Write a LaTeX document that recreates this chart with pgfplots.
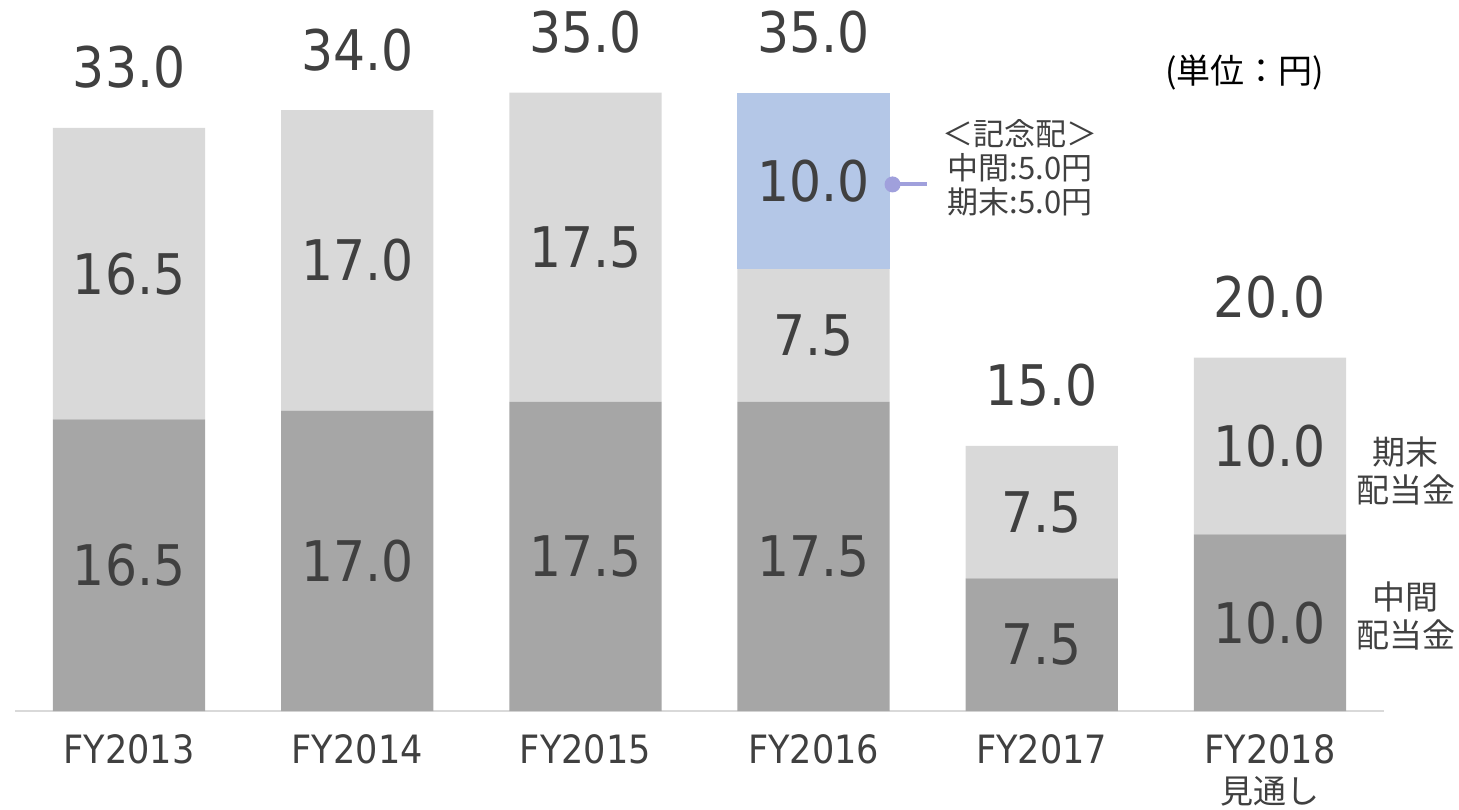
\documentclass[border=0pt]{standalone}
\usepackage{fontspec}
\setmainfont{DejaVu Sans}[FakeStretch=0.9]
\newfontfamily\cjk{Noto Sans CJK JP}
\usepackage{pgfplots}
\usepackage{pgfplotstable}
\pgfplotsset{compat=1.18}

\definecolor{interim}{HTML}{A6A6A6}
\definecolor{yearend}{HTML}{D9D9D9}
\definecolor{extra}{HTML}{B4C7E7}
\definecolor{txt}{HTML}{404040}
\definecolor{annot}{HTML}{A0A0DC}

\tikzset{num/.style={font=\fontsize{28pt}{30pt}\selectfont, text=txt}}
\pgfplotsset{frame/.style={
  scale only axis, width=684.5pt, height=353.4pt,
  xmin=-0.5, xmax=5.5, ymin=0, ymax=40, clip=false}}

% dividend per share (yen)
\pgfplotstableread{
x interim yearend extra
0 16.5 16.5 0
1 17.0 17.0 0
2 17.5 17.5 0
3 17.5 7.5 10.0
4 7.5 7.5 0
5 10.0 10.0 0
}\dividends

\begin{document}
\begin{tikzpicture}
\begin{axis}[
  name=ax, at={(0,0)}, anchor=south west, frame,
  ybar stacked, bar width=0.667,
  axis x line*=bottom, axis y line=none,
  x axis line style={draw=yearend, line width=1pt, -},
  xtick=data, xtick style={draw=none},
  xticklabels={FY2013,FY2014,FY2015,FY2016,FY2017,{FY2018\\{\cjk\fontsize{16.5pt}{20pt}\selectfont 見通し}}},
  xticklabel style={font=\fontsize{19.5pt}{20pt}\selectfont, text=txt, align=center, yshift=-8pt},
  ytick=\empty,
  every axis plot/.append style={draw=none},
]
\addplot[fill=interim] table[x=x, y=interim] {\dividends};
\addplot[fill=yearend] table[x=x, y=yearend] {\dividends};
\addplot[fill=extra] table[x=x, y=extra] {\dividends};
\end{axis}

% labels on top of the bars
\begin{axis}[at={(ax.south west)}, anchor=south west, frame, hide axis]
% segment labels
\node[num] at (axis cs:0,8.25) {16.5};
\node[num] at (axis cs:0,24.75) {16.5};
\node[num] at (axis cs:1,8.5) {17.0};
\node[num] at (axis cs:1,25.5) {17.0};
\node[num] at (axis cs:2,8.75) {17.5};
\node[num] at (axis cs:2,26.25) {17.5};
\node[num] at (axis cs:3,8.75) {17.5};
\node[num] at (axis cs:3,21.25) {7.5};
\node[num] at (axis cs:3,30) {10.0};
\node[num] at (axis cs:4,3.75) {7.5};
\node[num] at (axis cs:4,11.25) {7.5};
\node[num] at (axis cs:5,5) {10.0};
\node[num] at (axis cs:5,15) {10.0};

% totals
\node[num, anchor=base, yshift=20pt] at (axis cs:0,33) {33.0};
\node[num, anchor=base, yshift=20pt] at (axis cs:1,34) {34.0};
\node[num, anchor=base, yshift=20pt] at (axis cs:2,35) {35.0};
\node[num, anchor=base, yshift=20pt] at (axis cs:3,35) {35.0};
\node[num, anchor=base, yshift=20pt] at (axis cs:4,15) {15.0};
\node[num, anchor=base, yshift=20pt] at (axis cs:5,20) {20.0};

% commemorative dividend callout
\draw[annot, line width=2pt] (axis cs:3.346,29.8) -- (axis cs:3.496,29.8);
\fill[annot] (axis cs:3.346,29.8) circle (4pt);
\node[align=center, text=txt, font=\cjk\fontsize{15.5pt}{17pt}\selectfont] at (axis cs:3.905,30.73) {＜記念配＞\\中間:5.0円\\期末:5.0円};

\node[font=\cjk\fontsize{17pt}{18pt}\selectfont, text=black] at (axis cs:4.89,36.16) {(単位：円)};

\node[align=center, text=txt, font=\cjk\fontsize{16.5pt}{19pt}\selectfont] at (axis cs:5.596,13.58) {期末\\配当金};
\node[align=center, text=txt, font=\cjk\fontsize{16.5pt}{19pt}\selectfont] at (axis cs:5.596,5.40) {中間\\配当金};
\end{axis}
\pgfresetboundingbox
\path[use as bounding box] ([shift={(-7.5pt,-49pt)}]ax.south west) rectangle ([shift={(722pt,355.5pt)}]ax.south west);
\end{tikzpicture}
\end{document}
